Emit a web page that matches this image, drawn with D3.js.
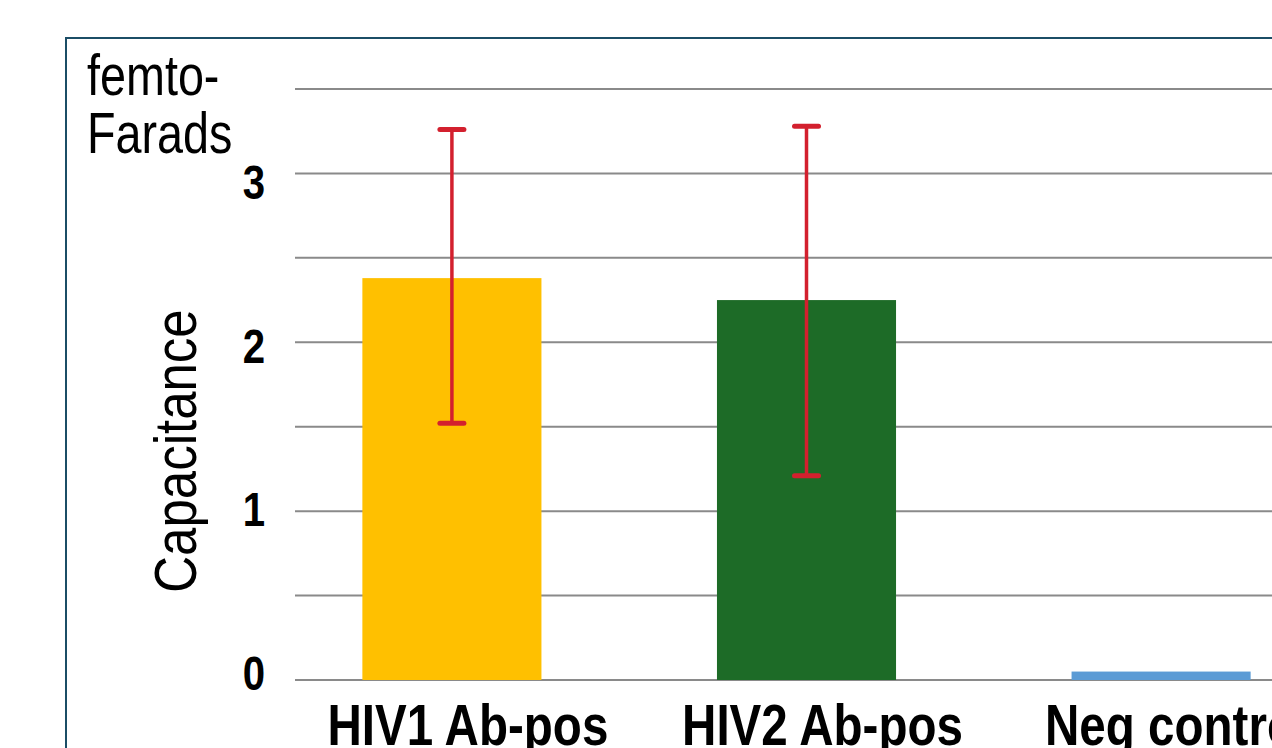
<!DOCTYPE html>
<html><head><meta charset="utf-8">
<script src="https://cdn.jsdelivr.net/npm/d3@7"></script>
<style>
html,body{margin:0;padding:0;background:#fff;overflow:hidden;}
svg{display:block;font-family:"Liberation Sans",Arial,sans-serif;}
</style></head>
<body>
<svg id="chart" width="1272" height="748"></svg>
<script>
const categories = ["HIV1 Ab-pos", "HIV2 Ab-pos", "Neg control"];
const values = [2.38, 2.25, 0.05];
const errHigh = [3.26, 3.28, null];
const errLow = [1.52, 1.21, null];
const colors = ["#ffc000", "#1d6b27", "#5b9bd5"];
const gridValues = [0, 0.5, 1, 1.5, 2, 2.5, 3, 3.5];
const tickLabels = [0, 1, 2, 3];
const unitLines = ["femto-", "Farads"];
const yTitle = "Capacitance";

const svg = d3.select("#chart");
const W = 1272, H = 748;

// frame (cropped at right/bottom)
svg.append("rect").attr("x", 66).attr("y", 38).attr("width", 1300).attr("height", 800)
  .attr("fill", "none").attr("stroke", "#1b4d66").attr("stroke-width", 2);

const y = d3.scaleLinear().domain([0, 3.5]).range([680, 89]);
// tick labels were placed as separate text boxes, slightly tighter than the grid
const yLabel = d3.scaleLinear().domain([0, 3]).range([672.5, 181.5]);
const x = d3.scaleBand().domain(categories).range([295, 1318]).paddingInner(0.495).paddingOuter(0.19);

// grid lines
svg.append("g").selectAll("line").data(gridValues).join("line")
  .attr("x1", 295).attr("x2", W + 10)
  .attr("y1", d => y(d)).attr("y2", d => y(d))
  .attr("stroke", "#8a8a8a").attr("stroke-width", 2);

// tick labels
svg.append("g").selectAll("text").data(tickLabels).join("text")
  .attr("transform", d => `translate(265,${yLabel(d)}) scale(0.82,1)`)
  .attr("text-anchor", "end").attr("dy", "0.36em")
  .attr("font-size", 49).attr("font-weight", "bold").attr("fill", "#000")
  .text(d => d);

// bars
svg.append("g").selectAll("rect").data(values).join("rect")
  .attr("x", (d, i) => x(categories[i]))
  .attr("width", x.bandwidth())
  .attr("y", d => y(d))
  .attr("height", d => y(0) - y(d))
  .attr("fill", (d, i) => colors[i]);

// error bars
const eg = svg.append("g");
categories.forEach((c, i) => {
  if (errHigh[i] == null) return;
  const cx = x(c) + x.bandwidth() / 2;
  eg.append("line").attr("x1", cx).attr("x2", cx)
    .attr("y1", y(errHigh[i])).attr("y2", y(errLow[i]))
    .attr("stroke", "#d3202e").attr("stroke-width", 3.5);
  [errHigh[i], errLow[i]].forEach(v => {
    eg.append("line").attr("x1", cx - 12).attr("x2", cx + 12)
      .attr("y1", y(v)).attr("y2", y(v))
      .attr("stroke", "#d3202e").attr("stroke-width", 5).attr("stroke-linecap", "round");
  });
});

// category labels
svg.append("g").selectAll("text").data(categories).join("text")
  .attr("transform", d => `translate(${x(d) + x.bandwidth() / 2 + 16},745) scale(0.82,1)`)
  .attr("text-anchor", "middle")
  .attr("font-size", 58).attr("font-weight", "bold").attr("fill", "#000")
  .text(d => d);

// unit label
svg.append("g").selectAll("text").data(unitLines).join("text")
  .attr("transform", (d, i) => `translate(87,${95 + i * 58}) scale(0.82,1)`)
  .attr("font-size", 57).attr("fill", "#000")
  .text(d => d);

// y title
svg.append("text")
  .attr("transform", "translate(196,451) rotate(-90) scale(0.85,1)")
  .attr("text-anchor", "middle")
  .attr("font-size", 60).attr("fill", "#000")
  .text(yTitle);
</script>
</body></html>
